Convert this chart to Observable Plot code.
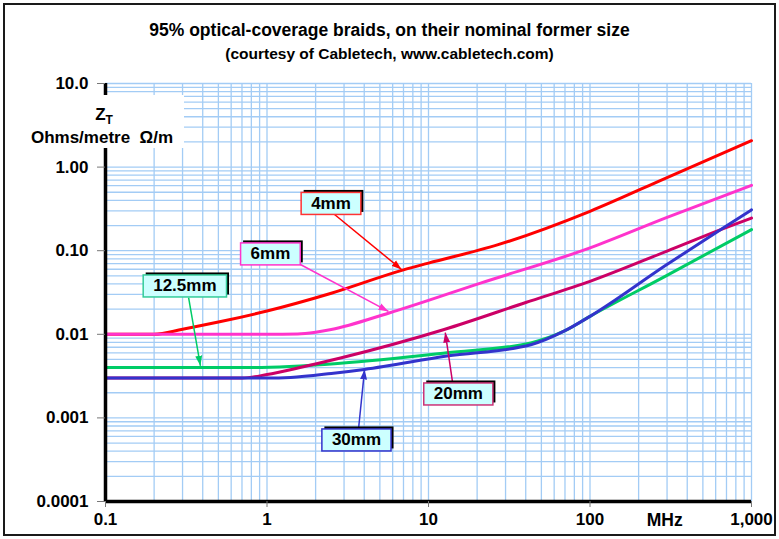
<!DOCTYPE html>
<html>
<head>
<meta charset="utf-8">
<script src="https://cdn.jsdelivr.net/npm/d3@7"></script>
<script src="https://cdn.jsdelivr.net/npm/@observablehq/plot@0.6"></script>
<style>
  body { margin: 0; background: #fff; font-family: "Liberation Sans", Arial, sans-serif; }
  #wrap { position: relative; width: 779px; height: 539px; overflow: hidden; background: #fff; }
  #border { position: absolute; left: 3px; top: 3px; width: 773px; height: 533px; box-sizing: border-box; border: 2px solid #1a1a1a; pointer-events: none; }
  #chart { position: absolute; left: 0; top: 0; }
  .title { position: absolute; left: 0; width: 779px; text-align: center; font-weight: bold; color: #000; white-space: nowrap; }
  #t1 { top: 20px; font-size: 17.5px; }
  #t2 { top: 45px; font-size: 15.5px; }
  #ytitle { position: absolute; left: 24px; top: 95px; width: 160px; height: 53px; background: #fff; text-align: center; font-weight: bold; font-size: 17px; color: #000; }
  #ytitle .z { position: absolute; left: 0; width: 160px; top: 10px; line-height: 20px; }
  #ytitle .z sub { font-size: 12px; vertical-align: -4px; }
  #ytitle .u { position: absolute; left: 0; width: 156px; top: 33px; line-height: 20px; }
</style>
</head>
<body>
<div id="wrap">
  <div id="chart"></div>
  <div class="title" id="t1">95% optical-coverage braids, on their nominal former size</div>
  <div class="title" id="t2">(courtesy of Cabletech, www.cabletech.com)</div>
  <div id="ytitle"><div class="z">Z<sub>T</sub></div><div class="u">Ohms/metre&nbsp;&nbsp;Ω/m</div></div>
  <div id="border"></div>
</div>
<script>
// ---- axis ticks ----
const xTicks = [0.1, 1, 10, 100, 1000];
const xTickLabels = ["0.1", "1", "10", "100", "1,000"];
const yTicks = [10, 1, 0.1, 0.01, 0.001, 0.0001];
const yTickLabels = ["10.0", "1.00", "0.10", "0.01", "0.001", "0.0001"];
const xUnit = "MHz";

// ---- series (frequency MHz, transfer impedance ohms/metre) ----
const f4mm  = [0.1, 0.2, 0.3, 0.5, 1, 2.5, 7, 10, 27, 100, 300, 1000];
const z4mm  = [0.01, 0.01, 0.0115, 0.014, 0.019, 0.031, 0.059, 0.071, 0.118, 0.296, 0.75, 2.07];

const f6mm  = [0.1, 1, 1.55, 2.0, 2.5, 5.7, 21, 100, 300, 1000];
const z6mm  = [0.01, 0.01, 0.0101, 0.0106, 0.0114, 0.018, 0.041, 0.108, 0.25, 0.605];

const f12mm = [0.1, 0.8, 2.85, 13, 43, 69, 100, 290, 1000];
const z12mm = [0.004, 0.004, 0.0045, 0.006, 0.0079, 0.0109, 0.0164, 0.049, 0.179];

const f20mm = [0.1, 0.7, 1, 1.6, 2.85, 12.5, 40, 100, 300, 675, 1000];
const z20mm = [0.003, 0.003, 0.0033, 0.004, 0.0052, 0.0114, 0.024, 0.043, 0.099, 0.185, 0.246];

const f30mm = [0.1, 1.0, 1.4, 2.5, 4, 13, 43, 69, 100, 293, 675, 1000];
const z30mm = [0.003, 0.003, 0.00305, 0.0034, 0.0038, 0.0055, 0.0075, 0.0109, 0.0164, 0.0665, 0.19, 0.308];

// ---- callout labels ----
const labelNames  = ["4mm", "6mm", "12.5mm", "20mm", "30mm"];
const labelColors = ["#ff3333", "#ff33cc", "#33cc99", "#cc3377", "#3333cc"];
const arrowColors = ["#ff0000", "#ff33cc", "#00cc66", "#cc0066", "#3333cc"];
const labelF  = [2.49, 1.05, 0.31, 15.3, 3.58];
const labelZ  = [0.367, 0.0914, 0.0378, 0.00193, 0.000544];
const arrowF1 = [2.62, 1.61, 0.327, 14.1, 3.69];
const arrowZ1 = [0.271, 0.0684, 0.0275, 0.00265, 0.000746];
const arrowF2 = [6.81, 5.65, 0.387, 12.7, 4.02];
const arrowZ2 = [0.0596, 0.0188, 0.0042, 0.0105, 0.0038];

const seriesDefs = [
  {f: f4mm,  z: z4mm,  color: "#ff0000"},
  {f: f6mm,  z: z6mm,  color: "#ff33cc"},
  {f: f12mm, z: z12mm, color: "#00cc66"},
  {f: f20mm, z: z20mm, color: "#cc0066"},
  {f: f30mm, z: z30mm, color: "#3333cc"}
];

// grid positions (1..9 within each decade)
const xGrid = [], yGrid = [];
for (let e = -1; e < 3; e++) for (let m = 1; m <= 9; m++) xGrid.push(m * Math.pow(10, e));
xGrid.push(1000);
for (let e = -4; e < 1; e++) for (let m = 1; m <= 9; m++) yGrid.push(m * Math.pow(10, e));
yGrid.push(10);

const yLabelMap = new Map(yTicks.map((d, i) => [d, yTickLabels[i]]));
const xLabelMap = new Map(xTicks.map((d, i) => [d, xTickLabels[i]]));

const labels = labelNames.map((n, i) => ({
  name: n, f: labelF[i], z: labelZ[i], f1: arrowF1[i], z1: arrowZ1[i], f2: arrowF2[i], z2: arrowZ2[i],
  color: labelColors[i], acolor: arrowColors[i]
}));

const gridColor = "#a3ccf5";
const FONT = "Liberation Sans, Arial, sans-serif";

const marks = [
  Plot.ruleX(xGrid, {stroke: gridColor, strokeWidth: 1.3}),
  Plot.ruleY(yGrid, {stroke: gridColor, strokeWidth: 1.3}),
  ...seriesDefs.map(s => Plot.line(s.f.map((f, i) => ({f, z: s.z[i]})), {
    x: "f", y: "z", stroke: s.color, strokeWidth: 3, curve: "monotone-x"
  })),
  Plot.ruleX([0.1], {stroke: "#000", strokeWidth: 3.5}),
  Plot.ruleY([0.0001], {stroke: "#000", strokeWidth: 3.5}),
  Plot.axisY(yTicks, {
    anchor: "left", tickSize: 8, tickPadding: 9, stroke: "#777",
    tickFormat: d => yLabelMap.get(d), fontSize: 17, fontWeight: "bold", fill: "#000", label: null
  }),
  Plot.axisX(xTicks, {
    anchor: "bottom", tickSize: 6, tickPadding: 5, stroke: "#777",
    tickFormat: d => xLabelMap.get(d), fontSize: 17, fontWeight: "bold", fill: "#000", label: null
  }),
  Plot.text([xUnit], {x: () => 290, frameAnchor: "bottom", dy: 24, fontSize: 17.5, fontWeight: "bold", fill: "#000"}),
  Plot.link(labels, {x1: "f1", y1: "z1", x2: "f2", y2: "z2", stroke: "acolor", strokeWidth: 1.5, markerEnd: "arrow"}),
  Plot.text(labels, {x: "f", y: "z", text: "name", fontSize: 17, fontWeight: "bold", fill: "#000"})
];

const svg = Plot.plot({
  width: 779, height: 539,
  marginLeft: 105, marginRight: 28, marginTop: 83, marginBottom: 38,
  style: {fontFamily: FONT, background: "transparent", overflow: "visible"},
  x: {type: "log", domain: [0.1, 1000]},
  y: {type: "log", domain: [0.0001, 10]},
  color: {type: "identity"},
  marks
});
document.getElementById("chart").appendChild(svg);

// filled arrowheads
svg.querySelectorAll("marker").forEach(m => {
  const col = m.getAttribute("stroke") || "#000";
  m.setAttribute("viewBox", "-10 -4 11 8");
  m.setAttribute("markerWidth", 11);
  m.setAttribute("markerHeight", 8);
  m.setAttribute("markerUnits", "userSpaceOnUse");
  m.setAttribute("fill", col);
  m.setAttribute("stroke", "none");
  m.innerHTML = "";
  const p = document.createElementNS("http://www.w3.org/2000/svg", "path");
  p.setAttribute("d", "M-10,-3.5L0,0L-10,3.5Z");
  m.appendChild(p);
});

// callout boxes behind the label texts
const ns = "http://www.w3.org/2000/svg";
Array.from(svg.querySelectorAll("text")).forEach(t => {
  const idx = labelNames.indexOf(t.textContent.trim());
  if (idx < 0) return;
  const b = t.getBBox();
  const w = b.width + 20, h = 22;
  const cx = b.x + b.width / 2, cy = b.y + b.height / 2;
  const tr = t.getAttribute("transform");
  const mk = (dx, dy, fill, stroke) => {
    const r = document.createElementNS(ns, "rect");
    r.setAttribute("x", cx - w / 2 + dx); r.setAttribute("y", cy - h / 2 + dy);
    r.setAttribute("width", w); r.setAttribute("height", h); r.setAttribute("fill", fill);
    if (stroke) { r.setAttribute("stroke", stroke); r.setAttribute("stroke-width", 1.5); }
    if (tr) r.setAttribute("transform", tr);
    t.parentNode.insertBefore(r, t);
  };
  mk(2.5, -2.5, "#000", null);
  mk(0, 0, "#ccffff", labelColors[idx]);
});
</script>
</body>
</html>
